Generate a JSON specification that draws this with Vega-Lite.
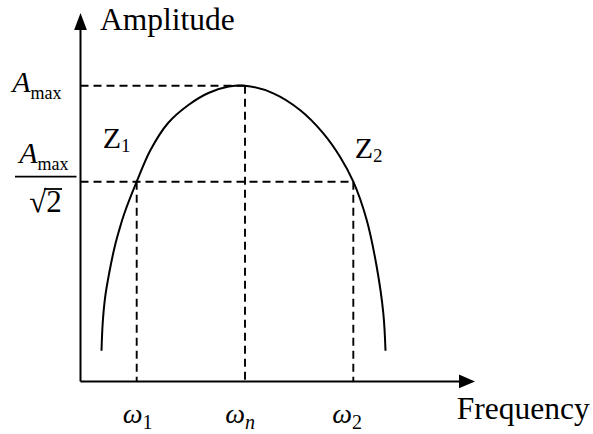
{
  "$schema": "https://vega.github.io/schema/vega-lite/v6.json",
  "width": 593,
  "height": 434,
  "autosize": "none",
  "padding": 0,
  "background": "white",
  "config": {
    "view": {"stroke": null},
    "text": {"font": "Times New Roman, Liberation Serif, serif", "color": "black"}
  },
  "datasets": {
    "response": [
      {"f": 0.1277, "a": 0.1916}, {"f": 0.1350, "a": 0.2761}, {"f": 0.1502, "a": 0.3563},
      {"f": 0.1745, "a": 0.4286}, {"f": 0.2079, "a": 0.5088}, {"f": 0.2353, "a": 0.5598},
      {"f": 0.2675, "a": 0.6117}, {"f": 0.3416, "a": 0.7071}, {"f": 0.4255, "a": 0.8038},
      {"f": 0.5325, "a": 0.8862}, {"f": 0.6560, "a": 0.9411}, {"f": 0.7775, "a": 0.9777},
      {"f": 0.9015, "a": 0.9973}, {"f": 1.0000, "a": 1.0000}, {"f": 1.1720, "a": 0.9768},
      {"f": 1.3343, "a": 0.9259}, {"f": 1.4760, "a": 0.8548}, {"f": 1.5775, "a": 0.7834},
      {"f": 1.6584, "a": 0.7071}, {"f": 1.7398, "a": 0.5903}, {"f": 1.8006, "a": 0.4478},
      {"f": 1.8407, "a": 0.3066}, {"f": 1.8541, "a": 0.1916}
    ],
    "guides": [
      {"f": 0, "a": 1, "f2": 1, "a2": 1},
      {"f": 1, "a": 1, "f2": 1, "a2": 0.098},
      {"f": 0, "a": 0.7071, "f2": 1.6584, "a2": 0.7071},
      {"f": 0.3416, "a": 0.7071, "f2": 0.3416, "a2": 0.098},
      {"f": 1.6584, "a": 0.7071, "f2": 1.6584, "a2": 0.098}
    ],
    "axes": [
      {"f": 0, "a": 0.098, "f2": 0, "a2": 1.176},
      {"f": 0, "a": 0.098, "f2": 2.319, "a2": 0.098}
    ],
    "titles": [
      {"f": 0.1185, "a": 1.170, "label": "Amplitude"},
      {"f": 2.287, "a": -0.0168, "label": "Frequency"}
    ],
    "amax": [
      {"f": -0.304, "a": 0.9808},
      {"f": -0.2614, "a": 0.7642}
    ],
    "fraction": [
      {"f": -0.3982, "a": 0.7224, "f2": -0.0243, "a2": 0.7224},
      {"f": -0.2219, "a": 0.6849, "f2": -0.1125, "a2": 0.6849}
    ],
    "zeros": [
      {"f": 0.2462, "a": 0.809, "sub": "1"},
      {"f": 1.7781, "a": 0.7785, "sub": "2"}
    ],
    "omegas": [
      {"f": 0.3769, "a": -0.030, "sub": "1", "italic": false},
      {"f": 1.0, "a": -0.030, "sub": "n", "italic": true},
      {"f": 1.6505, "a": -0.030, "sub": "2", "italic": false}
    ]
  },
  "encoding": {
    "x": {"field": "f", "type": "quantitative", "axis": null,
          "scale": {"domain": [-0.4894, 3.1155], "nice": false, "zero": false}},
    "y": {"field": "a", "type": "quantitative", "axis": null,
          "scale": {"domain": [-0.0625, 1.2614], "nice": false, "zero": false}}
  },
  "layer": [
    {
      "data": {"name": "guides"},
      "mark": {"type": "rule", "strokeDash": [8, 5], "strokeWidth": 1.9, "color": "black"},
      "encoding": {
        "x2": {"field": "f2"},
        "y2": {"field": "a2"}
      }
    },
    {
      "data": {"name": "response"},
      "mark": {"type": "line", "interpolate": "catmull-rom", "strokeWidth": 2, "color": "black"},
      "encoding": {"order": {"field": "f", "type": "quantitative"}}
    },
    {
      "data": {"name": "axes"},
      "mark": {"type": "rule", "strokeWidth": 2, "color": "black"},
      "encoding": {
        "x2": {"field": "f2"},
        "y2": {"field": "a2"}
      }
    },
    {
      "data": {"values": [{"f": 0, "a": 1.196}]},
      "mark": {"type": "point", "shape": "M0,-1L-0.75,1L0.75,1Z", "size": 289, "filled": true, "color": "black", "opacity": 1}
    },
    {
      "data": {"values": [{"f": 2.3495, "a": 0.098}]},
      "mark": {"type": "point", "shape": "M1,0L-1,-0.85L-1,0.85Z", "size": 256, "filled": true, "color": "black", "opacity": 1}
    },
    {
      "data": {"name": "titles"},
      "mark": {"type": "text", "align": "left", "baseline": "alphabetic", "fontSize": 31.5},
      "encoding": {"text": {"field": "label"}}
    },
    {
      "data": {"name": "amax"},
      "mark": {"type": "text", "align": "right", "baseline": "alphabetic", "fontSize": 30, "fontStyle": "italic", "text": "A"}
    },
    {
      "data": {"name": "amax"},
      "mark": {"type": "text", "align": "left", "baseline": "alphabetic", "fontSize": 18, "dy": 7, "text": "max"}
    },
    {
      "data": {"name": "fraction"},
      "mark": {"type": "rule", "strokeWidth": 1.8, "color": "black"},
      "encoding": {
        "x2": {"field": "f2"},
        "y2": {"field": "a2"}
      }
    },
    {
      "data": {"values": [{"f": -0.2122, "a": 0.6156}]},
      "mark": {"type": "text", "align": "center", "baseline": "alphabetic", "fontSize": 31, "text": "√2"}
    },
    {
      "data": {"name": "zeros"},
      "mark": {"type": "text", "align": "right", "baseline": "alphabetic", "fontSize": 30, "text": "Z"}
    },
    {
      "data": {"name": "zeros"},
      "mark": {"type": "text", "align": "left", "baseline": "alphabetic", "fontSize": 19, "dy": 3.5},
      "encoding": {"text": {"field": "sub"}}
    },
    {
      "data": {"name": "omegas"},
      "mark": {"type": "text", "align": "right", "baseline": "alphabetic", "fontSize": 28, "fontStyle": "italic", "text": "ω"}
    },
    {
      "data": {"name": "omegas"},
      "transform": [{"filter": "!datum.italic"}],
      "mark": {"type": "text", "align": "left", "baseline": "alphabetic", "fontSize": 20, "dy": 6},
      "encoding": {"text": {"field": "sub"}}
    },
    {
      "data": {"name": "omegas"},
      "transform": [{"filter": "datum.italic"}],
      "mark": {"type": "text", "align": "left", "baseline": "alphabetic", "fontSize": 20, "fontStyle": "italic", "dy": 6},
      "encoding": {"text": {"field": "sub"}}
    }
  ]
}
